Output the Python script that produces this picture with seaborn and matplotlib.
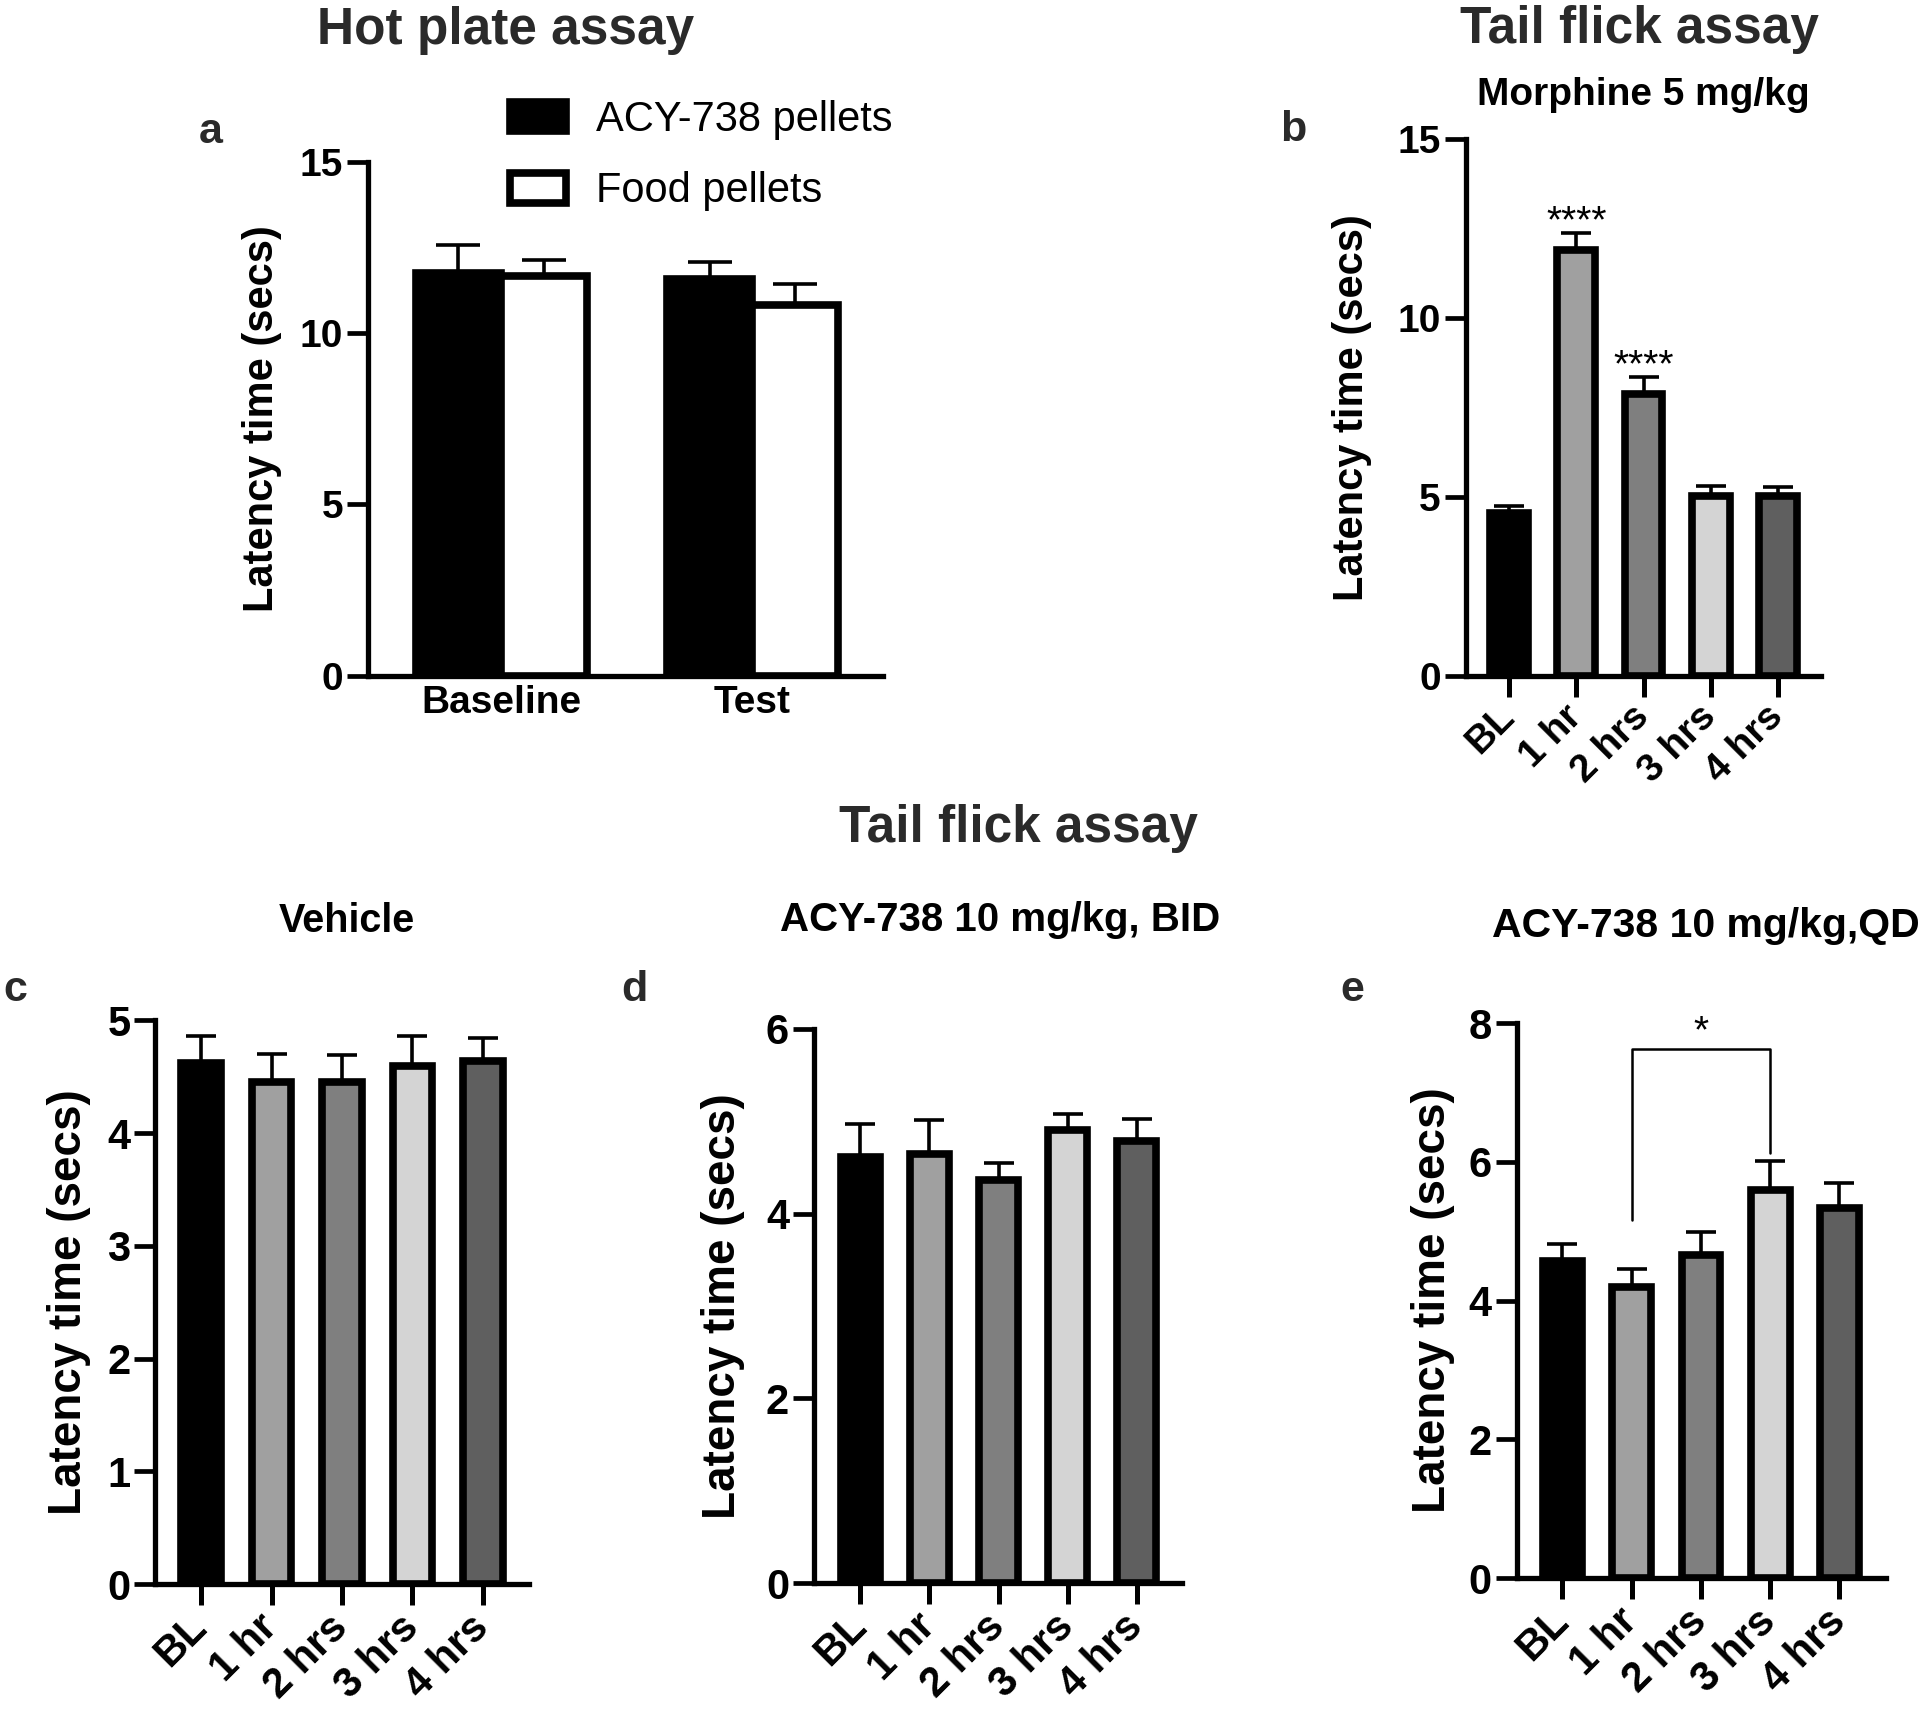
import matplotlib
matplotlib.use("Agg")
import matplotlib.pyplot as plt
from matplotlib.patches import Patch
import numpy as np
import pandas as pd
import seaborn as sns

# hot plate (panel a)
phases = ["Baseline", "Test"]
groups = ["ACY-738 pellets", "Food pellets"]
hp_mean = {"ACY-738 pellets": [11.77, 11.60], "Food pellets": [11.69, 10.83]}
hp_sem = {"ACY-738 pellets": [0.82, 0.48], "Food pellets": [0.45, 0.60]}

# tail flick (panels b-e)
times = ["BL", "1 hr", "2 hrs", "3 hrs", "4 hrs"]
morphine_mean = [4.55, 11.90, 7.86, 5.01, 5.03]
morphine_sem = [0.20, 0.48, 0.49, 0.29, 0.25]
vehicle_mean = [4.62, 4.45, 4.45, 4.59, 4.64]
vehicle_sem = [0.24, 0.25, 0.24, 0.27, 0.20]
bid_mean = [4.61, 4.65, 4.37, 4.91, 4.79]
bid_sem = [0.36, 0.36, 0.18, 0.17, 0.23]
qd_mean = [4.57, 4.19, 4.66, 5.60, 5.34]
qd_sem = [0.25, 0.27, 0.33, 0.41, 0.35]

time_colors = ["#000000", "#a0a0a0", "#7f7f7f", "#d4d4d4", "#5f5f5f"]

sns.set_style("white")
plt.rcParams["font.family"] = ["Liberation Sans", "DejaVu Sans"]
plt.rcParams["text.color"] = "black"
plt.rcParams["axes.labelcolor"] = "black"
plt.rcParams["xtick.color"] = "black"
plt.rcParams["ytick.color"] = "black"

EDGE = 5.5
SPINE = 3.8

fig = plt.figure(figsize=(19.2, 17.11), dpi=100)


def style_axes(ax, ylim, yticks, label_size, tick_size, labelpad, xticks=True, xpad=13):
    sns.despine(ax=ax)
    for s in ("left", "bottom"):
        ax.spines[s].set_linewidth(SPINE)
        ax.spines[s].set_color("black")
    ax.set_ylim(*ylim)
    ax.set_yticks(yticks)
    ax.tick_params(axis="y", length=15, width=3.4, pad=3, labelsize=tick_size, left=True)
    ax.tick_params(axis="x", length=15 if xticks else 0, width=3.6, pad=xpad if xticks else 7,
                   labelsize=tick_size, bottom=xticks)
    for t in ax.get_yticklabels() + ax.get_xticklabels():
        t.set_fontweight("bold")
    ax.set_ylabel("Latency time (secs)", fontsize=label_size, fontweight="bold",
                  labelpad=labelpad)
    ax.set_xlabel("")


def add_errors(ax, sems_by_container, capsize):
    for cont, sems in zip(ax.containers, sems_by_container):
        for bar, s in zip(cont, sems):
            xc = bar.get_x() + bar.get_width() / 2
            ax.errorbar(xc, bar.get_height(), yerr=[[0], [s]], fmt="none",
                        ecolor="black", elinewidth=2.6, capsize=capsize, capthick=2.6,
                        zorder=1)


def time_panel(rect, means, sems, ylim, yticks, xlim, label_size, tick_size, xpad, labelpad):
    ax = fig.add_axes(rect)
    df = pd.DataFrame({"time": times, "latency": means})
    sns.barplot(data=df, x="time", y="latency", hue="time", palette=time_colors,
                order=times, hue_order=times, legend=False, width=0.56,
                edgecolor="black", linewidth=EDGE, errorbar=None, ax=ax, zorder=2)
    # seaborn makes one container per hue level
    add_errors(ax, [[s] for s in sems], 11)
    ax.set_xlim(*xlim)
    style_axes(ax, ylim, yticks, label_size, tick_size, labelpad, xpad=xpad)
    for t in ax.get_xticklabels():
        t.set_rotation(45)
        t.set_ha("right")
        t.set_va("center")
        t.set_rotation_mode("anchor")
    return ax


# panel a
ax_a = fig.add_axes([0.1917, 0.6052, 0.2682, 0.2999])
df_a = pd.DataFrame({
    "phase": phases * 2,
    "group": [g for g in groups for _ in phases],
    "latency": hp_mean[groups[0]] + hp_mean[groups[1]],
})
sns.barplot(data=df_a, x="phase", y="latency", hue="group", order=phases, hue_order=groups,
            palette={"ACY-738 pellets": "black", "Food pellets": "white"}, width=0.68,
            edgecolor="black", linewidth=EDGE, errorbar=None, legend=False, ax=ax_a, zorder=2)
add_errors(ax_a, [hp_sem[g] for g in groups], 16)
ax_a.set_xlim(-0.53, 1.52)
style_axes(ax_a, (0, 15), [0, 5, 10, 15], 30, 28, 13, xticks=False)
handles = [Patch(facecolor="black", edgecolor="black", linewidth=EDGE),
           Patch(facecolor="white", edgecolor="black", linewidth=EDGE)]
fig.legend(handles, groups, loc="upper left", bbox_to_anchor=(0.2654, 0.9415),
           frameon=False, fontsize=30, handlelength=1.35, handleheight=0.72,
           handletextpad=0.72, labelspacing=0.75, borderpad=0, borderaxespad=0)

# panel b
ax_b = time_panel([0.7634, 0.6052, 0.1852, 0.3136], morphine_mean, morphine_sem,
                  (0, 15), [0, 5, 10, 15], (-0.645, 4.645), 30, 28, 11, 18)
for i in (1, 2):
    ax_b.text(i, morphine_mean[i] + morphine_sem[i] + 0.02, "****", ha="center",
              va="baseline", fontsize=28)

# panels c-e
time_panel([0.0809, 0.0742, 0.1944, 0.3295], vehicle_mean, vehicle_sem, (0, 5), range(6),
           (-0.65, 4.65), 33, 30, 12, 12)
time_panel([0.4240, 0.0748, 0.1918, 0.3238], bid_mean, bid_sem, (0, 6), [0, 2, 4, 6],
           (-0.67, 4.66), 33, 30, 12, 15)
ax_e = time_panel([0.7900, 0.0777, 0.1922, 0.3244], qd_mean, qd_sem, (0, 8), [0, 2, 4, 6, 8],
                  (-0.66, 4.67), 33, 30, 12, 10)
br_top = 7.63
ax_e.plot([1, 1, 3, 3], [qd_mean[1] + qd_sem[1] + 0.7, br_top, br_top,
                         qd_mean[3] + qd_sem[3] + 0.12], color="black", lw=1.8)
ax_e.text(2, br_top + 0.09, "*", ha="center", va="baseline", fontsize=28)

# headings
title_col = "#2a2a2a"
fig.text(0.2635, 0.982, "Hot plate assay", ha="center", va="center", fontsize=37,
         fontweight="bold", color=title_col)
fig.text(0.854, 0.9749, "Tail flick assay", ha="center", va="baseline", fontsize=37,
         fontweight="bold", color=title_col)
fig.text(0.856, 0.9445, "Morphine 5 mg/kg", ha="center", va="center", fontsize=28,
         fontweight="bold")
fig.text(0.5306, 0.516, "Tail flick assay", ha="center", va="center", fontsize=37,
         fontweight="bold", color=title_col)
fig.text(0.1805, 0.4617, "Vehicle", ha="center", va="center", fontsize=28.5,
         fontweight="bold")
fig.text(0.5208, 0.4623, "ACY-738 10 mg/kg, BID", ha="center", va="center", fontsize=29,
         fontweight="bold")
fig.text(0.777, 0.4588, "ACY-738 10 mg/kg,QD", ha="left", va="center", fontsize=29.5,
         fontweight="bold")

for lab, x, y in [("a", 0.1036, 0.923), ("b", 0.6667, 0.924), ("c", 0.002, 0.4214),
                  ("d", 0.3234, 0.4214), ("e", 0.698, 0.4214)]:
    fig.text(x, y, lab, ha="left", va="center", fontsize=31, fontweight="bold",
             color=title_col)

fig.savefig("out.png", dpi=100)
